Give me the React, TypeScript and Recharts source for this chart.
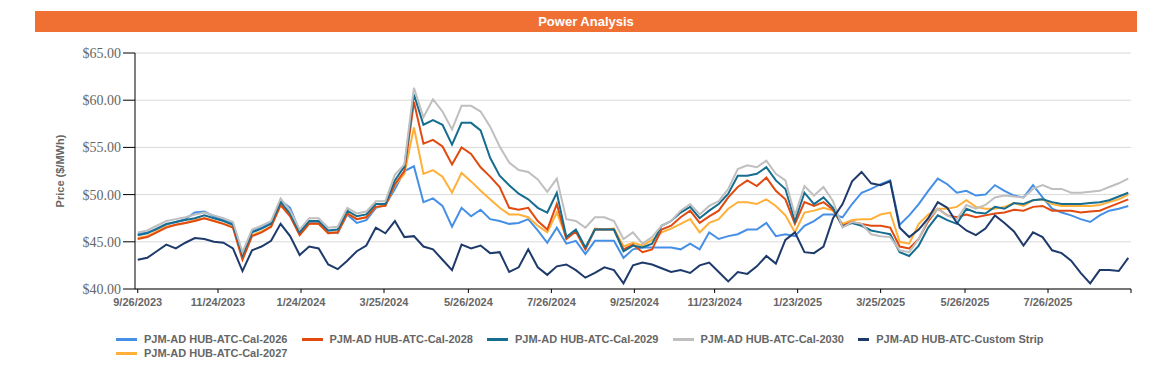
import React from 'react';
import { LineChart, Line, XAxis, YAxis, CartesianGrid } from 'recharts';

const DATES = [
  '2023-09-26','2023-10-03','2023-10-10','2023-10-17','2023-10-24','2023-10-31','2023-11-07','2023-11-14','2023-11-21','2023-11-28',
  '2023-12-05','2023-12-12','2023-12-19','2023-12-26','2024-01-02','2024-01-09','2024-01-16','2024-01-23','2024-01-30','2024-02-06',
  '2024-02-13','2024-02-20','2024-02-27','2024-03-05','2024-03-12','2024-03-19','2024-03-26','2024-04-02','2024-04-09','2024-04-16',
  '2024-04-23','2024-04-30','2024-05-07','2024-05-14','2024-05-21','2024-05-28','2024-06-04','2024-06-11','2024-06-18','2024-06-25',
  '2024-07-02','2024-07-09','2024-07-16','2024-07-23','2024-07-30','2024-08-06','2024-08-13','2024-08-20','2024-08-27','2024-09-03',
  '2024-09-10','2024-09-17','2024-09-24','2024-10-01','2024-10-08','2024-10-15','2024-10-22','2024-10-29','2024-11-05','2024-11-12',
  '2024-11-19','2024-11-26','2024-12-03','2024-12-10','2024-12-17','2024-12-24','2024-12-31','2025-01-07','2025-01-14','2025-01-21',
  '2025-01-28','2025-02-04','2025-02-11','2025-02-18','2025-02-25','2025-03-04','2025-03-11','2025-03-18','2025-03-25','2025-04-01',
  '2025-04-08','2025-04-15','2025-04-22','2025-04-29','2025-05-06','2025-05-13','2025-05-20','2025-05-27','2025-06-03','2025-06-10',
  '2025-06-17','2025-06-24','2025-07-01','2025-07-08','2025-07-15','2025-07-22','2025-07-29','2025-08-05','2025-08-12','2025-08-19',
  '2025-08-26','2025-09-02','2025-09-09','2025-09-16','2025-09-23',
];

const CAL_2026 = [
  45.8,46.0,46.3,46.8,47.1,47.4,48.1,48.2,47.7,47.3,
  46.9,43.7,46.1,46.5,47.0,49.4,48.6,46.1,47.0,47.1,
  46.0,45.9,47.9,47.0,47.3,48.6,48.9,50.6,52.5,53.0,
  49.2,49.6,48.8,46.6,48.6,47.7,48.4,47.4,47.2,46.9,
  47.0,47.4,46.2,44.9,46.5,44.8,45.1,43.7,45.1,45.1,
  45.1,43.3,44.2,44.4,44.4,44.4,44.4,44.2,44.8,44.2,
  46.0,45.3,45.6,45.8,46.3,46.3,47.0,45.6,45.8,45.6,
  46.7,47.2,47.9,47.9,47.6,49.0,50.2,50.6,51.1,51.5,
  46.8,47.8,49.0,50.4,51.7,51.1,50.2,50.4,49.9,50.0,
  51.0,50.4,49.9,49.7,51.0,49.7,48.5,48.1,47.8,47.4,
  47.1,47.8,48.3,48.5,48.8,
];

const CAL_2027 = [
  45.4,45.6,46.1,46.6,46.8,47.0,47.3,47.5,47.2,46.9,
  46.6,43.3,45.7,46.1,46.6,48.9,47.8,45.8,46.9,46.9,
  45.9,46.0,48.0,47.4,47.6,48.7,48.8,51.0,52.2,57.1,
  52.2,52.6,51.9,50.2,52.3,51.4,50.4,49.5,48.6,47.9,
  47.9,47.6,46.7,46.0,48.1,45.5,46.1,44.2,46.4,46.3,
  46.4,44.5,44.9,44.6,45.2,46.0,46.4,46.9,47.4,46.0,
  47.0,47.4,48.5,49.2,49.2,49.0,49.5,48.8,47.8,46.0,
  48.1,48.3,48.6,48.3,46.9,47.3,47.4,47.4,47.9,48.1,
  45.0,44.8,46.9,47.9,48.5,48.5,48.7,49.4,48.7,48.5,
  48.5,48.7,49.1,48.8,49.4,49.5,49.0,48.8,48.8,48.8,
  48.8,48.9,49.2,49.5,50.0,
];

const CAL_2028 = [
  45.3,45.5,46.0,46.5,46.8,47.0,47.2,47.5,47.2,46.9,
  46.5,43.1,45.6,46.0,46.6,48.9,47.7,45.7,46.9,46.9,
  45.9,46.0,48.0,47.4,47.6,48.7,48.8,51.1,52.5,59.8,
  55.4,55.8,55.1,53.2,55.0,54.3,52.9,51.9,50.8,48.6,
  48.4,48.6,47.2,46.3,49.0,45.3,46.1,44.2,46.3,46.3,
  46.3,44.2,44.7,43.9,44.2,46.3,46.7,47.6,48.3,47.0,
  47.7,48.3,49.7,50.8,51.5,50.9,51.8,50.4,49.5,46.9,
  49.2,48.8,49.2,48.4,46.7,47.1,46.9,46.7,46.7,46.5,
  44.5,44.3,45.3,47.2,48.5,47.8,47.6,47.9,47.6,47.8,
  48.0,48.1,48.4,48.3,48.7,48.8,48.3,48.3,48.3,48.1,
  48.2,48.3,48.7,49.1,49.5,
];

const CAL_2029 = [
  45.7,45.9,46.4,46.9,47.1,47.3,47.5,47.8,47.5,47.2,
  46.8,43.6,46.0,46.4,46.9,49.2,48.0,46.0,47.2,47.2,
  46.2,46.3,48.3,47.7,47.9,49.0,49.0,51.5,53.0,60.6,
  57.4,57.9,57.4,55.3,57.6,57.6,56.8,53.9,52.0,51.0,
  50.1,49.5,48.6,48.1,50.2,45.5,46.3,44.4,46.3,46.3,
  46.3,44.0,44.6,44.4,44.8,46.7,47.2,48.1,48.7,47.5,
  48.3,49.0,50.1,52.0,52.0,52.2,52.9,51.5,50.6,47.2,
  50.2,49.0,49.7,48.6,46.6,47.0,46.7,46.2,46.0,45.8,
  43.9,43.5,44.6,46.5,47.8,47.3,46.9,48.5,48.1,48.0,
  48.7,48.5,49.1,49.0,49.4,49.5,49.2,49.0,49.0,49.0,
  49.1,49.2,49.4,49.8,50.2,
];

const CAL_2030 = [
  46.0,46.2,46.7,47.2,47.4,47.6,47.9,48.1,47.8,47.5,
  47.1,43.9,46.3,46.7,47.2,49.6,48.3,46.3,47.5,47.5,
  46.5,46.6,48.6,48.0,48.2,49.3,49.3,52.1,53.2,61.3,
  58.2,60.1,58.8,56.9,59.4,59.4,58.8,57.2,55.1,53.4,
  52.6,52.4,51.6,50.3,51.7,47.4,47.2,46.5,47.6,47.6,
  47.2,45.3,46.0,44.8,45.5,46.7,47.2,48.3,49.0,47.9,
  48.8,49.3,50.6,52.7,53.1,52.9,53.6,52.2,51.5,47.8,
  50.9,49.9,50.8,49.3,46.5,47.1,46.9,45.8,45.6,45.5,
  44.1,43.9,45.3,47.4,48.5,47.8,47.4,48.9,48.5,48.9,
  49.7,49.9,49.8,49.7,50.6,51.0,50.6,50.6,50.2,50.2,
  50.3,50.4,50.8,51.2,51.7,
];

const CUSTOM_STRIP = [
  43.1,43.3,44.0,44.7,44.3,44.9,45.4,45.3,45.0,44.9,
  44.3,41.9,44.1,44.5,45.1,46.9,45.6,43.6,44.5,44.3,
  42.6,42.1,43.0,44.0,44.6,46.5,45.9,47.2,45.5,45.6,
  44.5,44.2,43.1,42.0,44.7,44.3,44.6,43.8,43.9,41.8,
  42.3,44.2,42.3,41.5,42.4,42.6,42.0,41.2,41.7,42.3,
  42.0,40.6,42.5,42.8,42.6,42.2,41.8,42.0,41.7,42.5,
  42.8,41.8,40.8,41.8,41.6,42.4,43.5,42.7,45.2,46.0,
  43.9,43.8,44.5,47.5,49.0,51.4,52.4,51.2,51.0,51.4,
  46.5,45.5,46.3,47.5,49.2,48.6,47.0,46.2,45.7,46.4,
  47.8,47.0,46.1,44.6,46.0,45.5,44.1,43.8,43.0,41.7,
  40.6,42.0,42.0,41.9,43.3,
];

const TICK_DATES = [
  '2023-09-26','2023-11-24','2024-01-24','2024-03-25','2024-05-26','2024-07-26',
  '2024-09-25','2024-11-23','2025-01-23','2025-03-25','2025-05-26','2025-07-26','2025-09-25',
];
const TICK_LABELS = [
  '9/26/2023','11/24/2023','1/24/2024','3/25/2024','5/26/2024','7/26/2024',
  '9/25/2024','11/23/2024','1/23/2025','3/25/2025','5/26/2025','7/26/2025','',
];
const DOMAIN_DATES = ['2023-09-24', '2025-09-25'];
const Y_TICKS = [40, 45, 50, 55, 60, 65];

const SERIES = [
  { key: 'cal2026', name: 'PJM-AD HUB-ATC-Cal-2026', color: '#4590E6', values: CAL_2026 },
  { key: 'cal2027', name: 'PJM-AD HUB-ATC-Cal-2027', color: '#FFB038', values: CAL_2027 },
  { key: 'cal2028', name: 'PJM-AD HUB-ATC-Cal-2028', color: '#E2490F', values: CAL_2028 },
  { key: 'cal2029', name: 'PJM-AD HUB-ATC-Cal-2029', color: '#166D8F', values: CAL_2029 },
  { key: 'cal2030', name: 'PJM-AD HUB-ATC-Cal-2030', color: '#BFBFBF', values: CAL_2030 },
  { key: 'custom', name: 'PJM-AD HUB-ATC-Custom Strip', color: '#1D3A6B', values: CUSTOM_STRIP },
];

const LEGEND_ROWS = [
  ['cal2026', 'cal2028', 'cal2029', 'cal2030', 'custom'],
  ['cal2027'],
];

const BASE = Date.UTC(2023, 8, 26);
const toDay = (d: string) => Math.round((Date.parse(d + 'T00:00:00Z') - BASE) / 86400000);

const data = DATES.map((d, i) => {
  const row: any = { t: toDay(d) };
  SERIES.forEach((s) => { row[s.key] = s.values[i]; });
  return row;
});

const tickDays = TICK_DATES.map(toDay);
const tickLabelOf = (v: number) => {
  const idx = tickDays.indexOf(v);
  return idx >= 0 ? TICK_LABELS[idx] : '';
};

export default function App() {
  return (
    <div style={{ position: 'relative', width: 1157, height: 362 }}>
      <div
        style={{
          position: 'absolute', left: 27, top: 3, width: 1102, height: 21,
          background: '#F07033', color: '#fff', fontFamily: 'Liberation Sans, Arial, sans-serif',
          fontWeight: 700, fontSize: 13, lineHeight: '21px', textAlign: 'center',
        }}
      >
        Power Analysis
      </div>
      <div style={{ position: 'absolute', left: 0, top: 0 }}>
        <LineChart width={1157} height={300} data={data} margin={{ top: 45, right: 34, bottom: 0, left: 0 }}>
          <CartesianGrid vertical={false} stroke="#D9D9D9" strokeWidth={1} />
          <XAxis
            dataKey="t"
            type="number"
            domain={[toDay(DOMAIN_DATES[0]), toDay(DOMAIN_DATES[1])]}
            ticks={tickDays}
            tickFormatter={tickLabelOf}
            interval={0}
            height={19}
            tickSize={4}
            tickMargin={5}
            stroke="#000"
            tick={{ fill: '#666', fontSize: 11, fontWeight: 700, fontFamily: 'Liberation Sans, Arial, sans-serif' }}
            allowDataOverflow
          />
          <YAxis
            domain={[40, 65]}
            ticks={Y_TICKS}
            width={127}
            tickSize={12}
            tickMargin={2}
            stroke="#000"
            interval={0}
            tickFormatter={(v: number) => `$${v.toFixed(2)}`}
            tick={{ fill: '#666', fontSize: 14, fontFamily: 'Liberation Serif, serif' }}
            label={{
              value: 'Price ($/MWh)', angle: -90, position: 'insideLeft', offset: 52,
              style: { fill: '#666', fontSize: 11, fontWeight: 700, fontFamily: 'Liberation Sans, Arial, sans-serif', textAnchor: 'middle' },
            }}
          />
          {SERIES.map((s) => (
            <Line
              key={s.key}
              dataKey={s.key}
              name={s.name}
              stroke={s.color}
              strokeWidth={2}
              dot={false}
              activeDot={false}
              type="linear"
              isAnimationActive={false}
            />
          ))}
        </LineChart>
      </div>
      <div
        style={{
          position: 'absolute', left: 108, top: 324,
          fontFamily: 'Liberation Sans, Arial, sans-serif', fontSize: 11, fontWeight: 700, color: '#666',
        }}
      >
        {LEGEND_ROWS.map((row, ri) => (
          <div key={ri} style={{ display: 'flex', height: 14, lineHeight: '14px' }}>
            {row.map((k) => {
              const s = SERIES.find((x) => x.key === k)!;
              return (
                <div key={k} style={{ width: 185.5, display: 'flex', alignItems: 'center', whiteSpace: 'nowrap' }}>
                  <span style={{ display: 'inline-block', width: 21, height: 3, background: s.color, marginRight: 7 }} />
                  <span>{s.name}</span>
                </div>
              );
            })}
          </div>
        ))}
      </div>
    </div>
  );
}
